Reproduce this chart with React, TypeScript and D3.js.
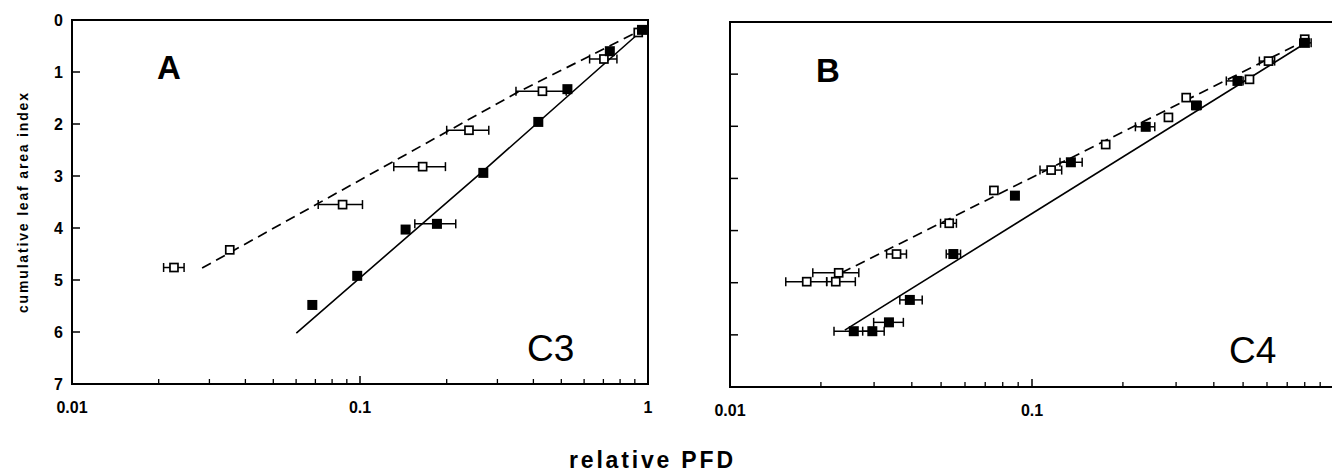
import React from "react";
import * as d3 from "d3";

// panel A (C3) - open squares / dashed line
const aOpenX = [0.925, 0.703, 0.43, 0.239, 0.165, 0.087, 0.0353, 0.0226];
const aOpenY = [0.24, 0.75, 1.37, 2.12, 2.82, 3.55, 4.42, 4.76];
const aOpenLo = [null, 0.627, 0.348, 0.2, 0.131, 0.0716, null, 0.0208];
const aOpenHi = [null, 0.78, 0.52, 0.28, 0.198, 0.102, null, 0.0245];

// panel A - filled squares / solid line
const aFillX = [0.953, 0.737, 0.525, 0.416, 0.268, 0.185, 0.144, 0.0978, 0.0683];
const aFillY = [0.19, 0.6, 1.33, 1.96, 2.94, 3.92, 4.03, 4.92, 5.48];
const aFillLo = [null, null, null, null, null, 0.155, null, null, null];
const aFillHi = [null, null, null, null, null, 0.215, null, null, null];

const aDashX = [0.0283, 0.35, 0.957];
const aDashY = [4.77, 1.4, 0.18];
const aSolidX = [0.0601, 0.268, 0.99];
const aSolidY = [6.02, 2.9, 0.12];

// panel B (C4)
const bOpenX = [0.8, 0.607, 0.525, 0.324, 0.283, 0.1754, 0.1157, 0.0748, 0.0532, 0.0356, 0.0229, 0.01795, 0.0224];
const bOpenY = [0.33, 0.75, 1.1, 1.45, 1.83, 2.35, 2.84, 3.23, 3.86, 4.45, 4.81, 4.98, 4.98];
const bOpenLo = [null, 0.566, null, null, null, null, 0.1063, null, 0.0498, 0.033, 0.0188, 0.0153, 0.0209];
const bOpenHi = [null, 0.636, null, null, null, null, 0.1254, null, 0.0562, 0.0384, 0.0267, 0.0209, 0.026];

const bFillX = [0.801, 0.479, 0.35, 0.238, 0.1345, 0.0878, 0.0549, 0.0394, 0.0336, 0.0296, 0.0257];
const bFillY = [0.4, 1.13, 1.6, 2.01, 2.69, 3.33, 4.45, 5.33, 5.76, 5.93, 5.93];
const bFillLo = [0.77, 0.44, 0.338, 0.22, 0.1238, null, 0.052, 0.0365, 0.0299, 0.0275, 0.0221];
const bFillHi = [0.84, 0.5, 0.363, 0.255, 0.1466, null, 0.058, 0.0433, 0.0375, 0.0324, 0.029];

const bDashX = [0.0234, 0.82];
const bDashY = [4.81, 0.33];
const bSolidX = [0.024, 0.823];
const bSolidY = [5.91, 0.37];

const yTicks = [0, 1, 2, 3, 4, 5, 6, 7];
const majorX = [0.01, 0.1, 1];
const xTickLabelsA = ["0.01", "0.1", "1"];
// the "1" of panel B falls off the right edge of the picture
const xTickLabelsB = ["0.01", "0.1", ""];
const minorX = [2, 3, 4, 5, 6, 7, 8, 9].flatMap((m) => [m * 0.01, m * 0.1]);

const FONT = "'Liberation Sans', Arial, sans-serif";

const Panel = ({ box, open, fill, dash, solid, letter, tag, yLabels, xLabels }) => {
  const x = d3.scaleLog().domain([0.01, 1]).range([box.l, box.r]);
  const y = d3.scaleLinear().domain([0, 7]).range([box.t, box.b]);
  const line = d3
    .line()
    .x((d) => x(d[0]))
    .y((d) => y(d[1]));

  const errBars = (s) =>
    s.x.map((v, i) => {
      if (s.lo[i] == null) return null;
      const yy = y(s.y[i]);
      const x0 = x(s.lo[i]);
      const x1 = x(s.hi[i]);
      return (
        <g key={"e" + i} stroke="#000" strokeWidth={1.5}>
          <line x1={x0} x2={x1} y1={yy} y2={yy} />
          <line x1={x0} x2={x0} y1={yy - 4.5} y2={yy + 4.5} />
          <line x1={x1} x2={x1} y1={yy - 4.5} y2={yy + 4.5} />
        </g>
      );
    });

  return (
    <g>
      {/* frame */}
      <rect
        x={box.l}
        y={box.t}
        width={box.r - box.l}
        height={box.b - box.t}
        fill="none"
        stroke="#000"
        strokeWidth={2}
      />
      {yTicks.slice(1, -1).map((t) => (
        <line key={"yt" + t} x1={box.l} x2={box.l + 8} y1={y(t)} y2={y(t)} stroke="#000" strokeWidth={1.5} />
      ))}
      {minorX.map((t) => (
        <line key={"mx" + t} x1={x(t)} x2={x(t)} y1={box.b} y2={box.b - 5} stroke="#000" strokeWidth={1.3} />
      ))}
      {majorX.map((t) => (
        <line key={"Mx" + t} x1={x(t)} x2={x(t)} y1={box.b} y2={box.b - 8} stroke="#000" strokeWidth={1.5} />
      ))}
      {yLabels &&
        yTicks.map((t) => (
          <text
            key={"yl" + t}
            x={box.l - 9}
            y={y(t)}
            dy="0.36em"
            textAnchor="end"
            fontSize={16}
            fontWeight="bold"
            fontFamily={FONT}
          >
            {t}
          </text>
        ))}
      {majorX.map((t, i) => (
        <text
          key={"xl" + t}
          x={x(t)}
          y={box.b + 23}
          dy="0.36em"
          textAnchor="middle"
          fontSize={16}
          fontWeight="bold"
          fontFamily={FONT}
        >
          {xLabels[i]}
        </text>
      ))}

      {/* fitted lines */}
      <path
        d={line(dash.x.map((v, i) => [v, dash.y[i]]))}
        fill="none"
        stroke="#000"
        strokeWidth={1.7}
        strokeDasharray="10,6"
      />
      <path d={line(solid.x.map((v, i) => [v, solid.y[i]]))} fill="none" stroke="#000" strokeWidth={1.6} />

      {errBars(open)}
      {errBars(fill)}

      {open.x.map((v, i) => (
        <rect
          key={"o" + i}
          x={x(v) - 4}
          y={y(open.y[i]) - 4}
          width={8}
          height={8}
          fill="#fff"
          stroke="#000"
          strokeWidth={1.7}
        />
      ))}
      {fill.x.map((v, i) => (
        <rect key={"f" + i} x={x(v) - 5} y={y(fill.y[i]) - 5} width={10} height={10} fill="#000" />
      ))}

      <text x={letter.x} y={letter.y} fontSize={33} fontFamily={FONT} fontWeight="bold">
        {letter.text}
      </text>
      <text x={tag.x} y={tag.y} fontSize={37} fontFamily={FONT}>
        {tag.text}
      </text>
    </g>
  );
};

export default function App() {
  return (
    <svg
      width={1332}
      height={474}
      style={{ position: "absolute", left: 0, top: 0, background: "#fff" }}
    >
      <Panel
        box={{ l: 72, r: 648, t: 20, b: 384 }}
        open={{ x: aOpenX, y: aOpenY, lo: aOpenLo, hi: aOpenHi }}
        fill={{ x: aFillX, y: aFillY, lo: aFillLo, hi: aFillHi }}
        dash={{ x: aDashX, y: aDashY }}
        solid={{ x: aSolidX, y: aSolidY }}
        letter={{ x: 157, y: 79, text: "A" }}
        tag={{ x: 527, y: 361, text: "C3" }}
        yLabels={true}
        xLabels={xTickLabelsA}
      />
      <Panel
        box={{ l: 730, r: 1334, t: 22, b: 387 }}
        open={{ x: bOpenX, y: bOpenY, lo: bOpenLo, hi: bOpenHi }}
        fill={{ x: bFillX, y: bFillY, lo: bFillLo, hi: bFillHi }}
        dash={{ x: bDashX, y: bDashY }}
        solid={{ x: bSolidX, y: bSolidY }}
        letter={{ x: 816, y: 82, text: "B" }}
        tag={{ x: 1229, y: 363, text: "C4" }}
        yLabels={false}
        xLabels={xTickLabelsB}
      />
      <text
        transform="translate(28,203) rotate(-90)"
        textAnchor="middle"
        fontSize={14}
        fontWeight="bold"
        fontFamily={FONT}
        textLength={220}
        lengthAdjust="spacing"
      >
        cumulative leaf area index
      </text>
      <text
        x={569}
        y={468}
        fontSize={23}
        fontWeight="bold"
        fontFamily={FONT}
        textLength={164}
        lengthAdjust="spacing"
      >
        relative PFD
      </text>
    </svg>
  );
}
